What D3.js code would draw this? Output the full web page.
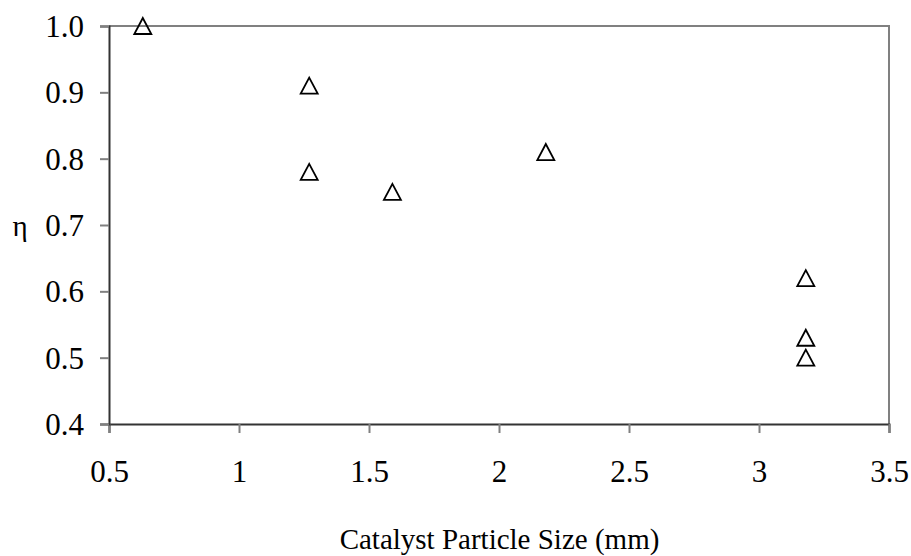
<!DOCTYPE html>
<html>
<head>
<meta charset="utf-8">
<script src="https://cdn.jsdelivr.net/npm/d3@7"></script>
<style>
  html, body { margin: 0; padding: 0; background: #fff; }
  svg { display: block; }
  text { font-family: "Liberation Serif", "Times New Roman", serif; fill: #000; }
</style>
</head>
<body>
<svg id="chart" width="911" height="556"></svg>
<script>
// Catalyst particle size (mm) against effectiveness factor
const particleSize = [0.63, 1.27, 1.27, 1.59, 2.18, 3.18, 3.18, 3.18];
const effectiveness = [1.00, 0.91, 0.78, 0.75, 0.81, 0.62, 0.53, 0.50];
const xTicks = [0.5, 1, 1.5, 2, 2.5, 3, 3.5];
const yTicks = [0.4, 0.5, 0.6, 0.7, 0.8, 0.9, 1.0];
const xTitle = "Catalyst Particle Size (mm)";
const yTitle = "η";

const svg = d3.select("#chart");
const plotLeft = 109, plotRight = 889, plotTop = 26, plotBottom = 424;

const x = d3.scaleLinear().domain([0.5, 3.5]).range([plotLeft, plotRight]);
const y = d3.scaleLinear().domain([0.4, 1.0]).range([plotBottom, plotTop]);

// plot-area frame: top and right edges in grey
svg.append("path")
  .attr("d", `M${plotLeft},${plotTop} H${plotRight} V${plotBottom}`)
  .attr("fill", "none").attr("stroke", "#808080").attr("stroke-width", 2);

// axes
const xAxis = svg.append("g").attr("transform", `translate(0,${plotBottom})`)
  .call(d3.axisBottom(x).tickValues(xTicks).tickSize(9)
    .tickFormat(d => d3.format("")(d)));
const yAxis = svg.append("g").attr("transform", `translate(${plotLeft},0)`)
  .call(d3.axisLeft(y).tickValues(yTicks).tickSize(9).tickPadding(16)
    .tickFormat(d3.format(".1f")));

[xAxis, yAxis].forEach(g => {
  g.select(".domain").attr("stroke", "#333").attr("stroke-width", 2);
  g.selectAll(".tick line").attr("stroke", "#808080").attr("stroke-width", 2);
  g.selectAll(".tick text")
    .style("font-size", "31px").attr("fill", "#000");
});
xAxis.selectAll(".tick text").attr("y", 58).attr("dy", 0);
yAxis.selectAll(".tick text").attr("dy", "0.34em");

// axis titles
svg.append("text")
  .attr("x", (plotLeft + plotRight) / 2 + 0.5).attr("y", 549)
  .attr("text-anchor", "middle").style("font-size", "29px")
  .text(xTitle);
svg.append("text")
  .attr("x", 20).attr("y", 236)
  .attr("text-anchor", "middle").style("font-size", "29px")
  .text(yTitle);

// open triangle markers
const pts = particleSize.map((v, i) => ({ px: v, eta: effectiveness[i] }));
svg.append("g").selectAll("path")
  .data(pts).join("path")
  .attr("d", d => {
    const cx = x(d.px), cy = y(d.eta);
    return `M${cx},${cy - 8} L${cx + 8.5},${cy + 8} L${cx - 8.5},${cy + 8} Z`;
  })
  .attr("fill", "none").attr("stroke", "#000").attr("stroke-width", 1.8)
  .attr("stroke-linejoin", "miter");
</script>
</body>
</html>
